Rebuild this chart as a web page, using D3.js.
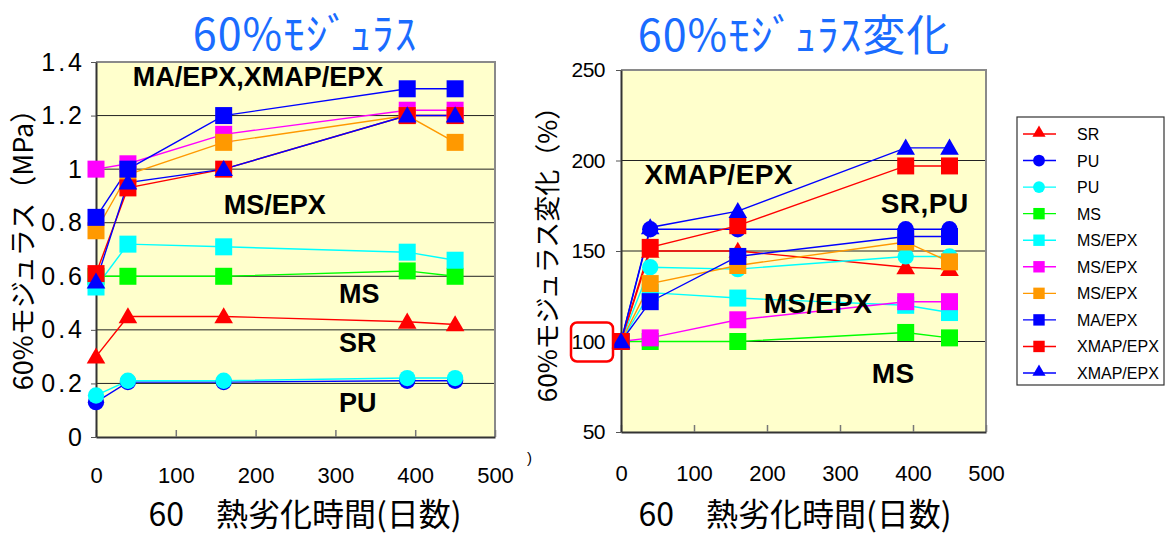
<!DOCTYPE html>
<html>
<head>
<meta charset="utf-8">
<script src="https://cdn.jsdelivr.net/npm/d3@7"></script>
<style>
  html, body { margin: 0; padding: 0; background: #fff; }
  svg { display: block; }
  .cjk { font-family: "Noto Sans CJK JP", "Noto Sans", sans-serif; }
  .num { font-family: "Liberation Sans Narrow", "Liberation Sans", Arial, sans-serif; font-stretch: condensed; }
  .lbl { font-family: "Liberation Sans", Arial, sans-serif; font-weight: bold; }
</style>
</head>
<body>
<svg id="chart" width="1168" height="537"></svg>
<script>
// ---- data -------------------------------------------------------------
const days = [0, 40, 160, 390, 450];          // heat-aging time (days at 60)

const seriesNames = ["SR", "PU", "PU", "MS", "MS/EPX", "MS/EPX", "MS/EPX", "MA/EPX", "XMAP/EPX", "XMAP/EPX"];

// 60% modulus (MPa)
const modSR      = [0.30, 0.45, 0.45, 0.43, 0.42];
const modPU1     = [0.13, 0.205, 0.205, 0.21, 0.21];
const modPU2     = [0.155, 0.21, 0.21, 0.22, 0.22];
const modMS      = [0.60, 0.60, 0.60, 0.62, 0.60];
const modMSEPX1  = [0.56, 0.72, 0.71, 0.69, 0.66];
const modMSEPX2  = [1.00, 1.02, 1.13, 1.22, 1.22];
const modMSEPX3  = [0.77, 0.98, 1.10, 1.20, 1.10];
const modMAEPX   = [0.82, 1.00, 1.20, 1.30, 1.30];
const modXMAP1   = [0.61, 0.93, 1.00, 1.20, 1.20];
const modXMAP2   = [0.58, 0.95, 1.00, 1.20, 1.20];

// 60% modulus change (%)
const chgSR      = [100, 150, 150, 141, 140];
const chgPU1     = [100, 162, 162, 162, 162];
const chgPU2     = [100, 141, 140, 147, 147];
const chgMS      = [100, 100, 100, 105, 102];
const chgMSEPX1  = [100, 127, 124, 120, 116];
const chgMSEPX2  = [100, 102, 112, 122, 122];
const chgMSEPX3  = [100, 132, 142, 155, 144];
const chgMAEPX   = [100, 122, 147, 158, 158];
const chgXMAP1   = [100, 152, 164, 197, 197];
const chgXMAP2   = [100, 163, 172, 207, 207];

const xTicks      = [0, 100, 200, 300, 400, 500];
const modTicks    = [0, 0.2, 0.4, 0.6, 0.8, 1.0, 1.2, 1.4];
const chgTicks    = [50, 100, 150, 200, 250];

// ---- styles (in series order) ------------------------------------------
const colors = ["#FF0000", "#0000FF", "#00FFFF", "#00FF00", "#00FFFF", "#FF00FF", "#FF9900", "#0000FF", "#FF0000", "#0000FF"];
const shapes = ["tri", "circ", "circ", "sq", "sq", "sq", "sq", "sq", "sq", "tri"];

const modSeries = [modSR, modPU1, modPU2, modMS, modMSEPX1, modMSEPX2, modMSEPX3, modMAEPX, modXMAP1, modXMAP2];
const chgSeries = [chgSR, chgPU1, chgPU2, chgMS, chgMSEPX1, chgMSEPX2, chgMSEPX3, chgMAEPX, chgXMAP1, chgXMAP2];

const svg = d3.select("#chart");

function symbolPath(shape, big) {
  const t = shape === "sq" ? d3.symbolSquare : shape === "circ" ? d3.symbolCircle : d3.symbolTriangle;
  const size = big ? (shape === "sq" ? 289 : shape === "circ" ? 210 : 150)
                   : (shape === "sq" ? 130 : shape === "circ" ? 110 : 75);
  return d3.symbol().type(t).size(size)();
}

function drawPanel(opt) {
  const x = d3.scaleLinear().domain([0, 500]).range([opt.left, opt.right]);
  const y = d3.scaleLinear().domain(opt.yDomain).range([opt.bottom, opt.top]);
  const g = svg.append("g");

  g.append("rect")
    .attr("x", opt.left).attr("y", opt.top)
    .attr("width", opt.right - opt.left).attr("height", opt.bottom - opt.top)
    .attr("fill", "#FFFFCC");

  // horizontal gridlines
  g.selectAll("line.grid").data(opt.grid).join("line")
    .attr("class", "grid")
    .attr("x1", opt.left).attr("x2", opt.right)
    .attr("y1", d => y(d)).attr("y2", d => y(d))
    .attr("stroke", "#222").attr("stroke-width", 1);

  // top / right frame
  g.append("path")
    .attr("d", `M${opt.left},${opt.top}H${opt.right}V${opt.bottom}`)
    .attr("fill", "none").attr("stroke", "#8a8a8a").attr("stroke-width", 2);

  // x axis (ticks pointing inward)
  const ax = g.append("g").attr("transform", `translate(0,${opt.bottom})`)
    .call(d3.axisBottom(x).tickValues(xTicks).tickSizeInner(-7).tickSizeOuter(0).tickPadding(opt.xPad));
  ax.select(".domain").attr("stroke", "#333").attr("stroke-width", 2);
  ax.selectAll(".tick line").attr("stroke", "#777").attr("stroke-width", 1.5);
  ax.selectAll("text").attr("class", "num").attr("font-size", 22).attr("fill", "#000");

  // y axis
  const ay = g.append("g").attr("transform", `translate(${opt.left},0)`)
    .call(d3.axisLeft(y).tickValues(opt.yTicks).tickFormat(d3.format("~g"))
      .tickSizeInner(5).tickSizeOuter(0).tickPadding(opt.yPad));
  ay.select(".domain").attr("stroke", "#333").attr("stroke-width", 2);
  ay.selectAll(".tick line").attr("stroke", "#555");
  ay.selectAll("text").attr("class", opt.yFontClass).attr("font-size", opt.yFont)
    .attr("fill", "#000").attr("letter-spacing", opt.yLetter);

  // series lines
  const line = d3.line().x((d, i) => x(days[i])).y(d => y(d));
  opt.series.forEach((s, k) => {
    g.append("path").datum(s).attr("d", line)
      .attr("fill", "none").attr("stroke", colors[k]).attr("stroke-width", 1.4);
  });
  // markers
  opt.series.forEach((s, k) => {
    g.selectAll(null).data(s).join("path")
      .attr("d", symbolPath(shapes[k], true))
      .attr("transform", (d, i) => `translate(${x(days[i])},${y(d) + (shapes[k] === "tri" ? 1.5 : 0)})`)
      .attr("fill", colors[k]);
  });

  // in-plot labels
  g.selectAll("text.ann").data(opt.notes).join("text")
    .attr("class", "ann lbl")
    .attr("x", d => x(d.day)).attr("y", d => y(d.v))
    .attr("text-anchor", "middle").attr("font-size", opt.noteFont)
    .attr("letter-spacing", opt.noteLetter)
    .attr("fill", "#000").text(d => d.t);

  return { x, y, g };
}

// ---- left panel: 60% modulus ------------------------------------------
const L = drawPanel({
  left: 96, right: 495, top: 62, bottom: 437,
  yDomain: [0, 1.4], yTicks: modTicks, grid: [0.2, 0.4, 0.6, 0.8, 1.0, 1.2],
  series: modSeries, xPad: 30, yPad: 6, yFont: 25, yLetter: 3, yFontClass: "lblplain",
  noteFont: 27, noteLetter: 0,
  notes: [
    { t: "MA/EPX,XMAP/EPX", day: 203, v: 1.31 },
    { t: "MS/EPX", day: 224, v: 0.832 },
    { t: "MS", day: 330, v: 0.50 },
    { t: "SR", day: 328, v: 0.317 },
    { t: "PU", day: 328, v: 0.093 }
  ]
});
L.g.selectAll(".lblplain").attr("font-family", "'Liberation Sans', Arial, sans-serif");

// ---- right panel: 60% modulus change ----------------------------------
const R = drawPanel({
  left: 621, right: 986, top: 70, bottom: 432,
  yDomain: [50, 250], yTicks: chgTicks, grid: [100, 150, 200],
  series: chgSeries, xPad: 33, yPad: 11, yFont: 21, yLetter: -0.5, yFontClass: "num",
  noteFont: 28, noteLetter: 0.5,
  notes: [
    { t: "XMAP/EPX", day: 134, v: 187 },
    { t: "SR,PU", day: 416, v: 171 },
    { t: "MS/EPX", day: 270, v: 116 },
    { t: "MS", day: 373, v: 77 }
  ]
});

// red rounded frame around the 100 % reference tick label
R.g.append("rect")
  .attr("x", 571).attr("y", R.y(100) - 19)
  .attr("width", 42).attr("height", 39).attr("rx", 6)
  .attr("fill", "none").attr("stroke", "#FF0000").attr("stroke-width", 2.5);

// ---- titles ------------------------------------------------------------
svg.append("text").attr("class", "cjk").attr("x", 305).attr("y", 50)
  .attr("text-anchor", "middle").attr("font-size", 43).attr("fill", "#1A6CFF")
  .attr("letter-spacing", 1)
  .text("60%ﾓｼﾞｭﾗｽ");
svg.append("text").attr("class", "cjk").attr("x", 794).attr("y", 51)
  .attr("text-anchor", "middle").attr("font-size", 43).attr("fill", "#1A6CFF")
  .attr("letter-spacing", 1)
  .text("60%ﾓｼﾞｭﾗｽ変化");

// axis titles
svg.append("text").attr("class", "cjk")
  .attr("transform", "translate(33,243) rotate(-90)")
  .attr("text-anchor", "middle").attr("font-size", 27).attr("fill", "#000")
  .text("60%モジュラス（MPa）");
svg.append("text").attr("class", "cjk")
  .attr("transform", "translate(557,248) rotate(-90)")
  .attr("text-anchor", "middle").attr("font-size", 26).attr("fill", "#000")
  .text("60%モジュラス変化（%）");

svg.append("text").attr("class", "cjk").attr("x", 305).attr("y", 526)
  .attr("text-anchor", "middle").attr("font-size", 32).attr("fill", "#000")
  .text("60　熱劣化時間(日数)");
svg.append("text").attr("class", "cjk").attr("x", 795).attr("y", 526)
  .attr("text-anchor", "middle").attr("font-size", 32).attr("fill", "#000")
  .text("60　熱劣化時間(日数)");

svg.append("text").attr("x", 527).attr("y", 463)
  .attr("font-family", "'Liberation Sans', Arial, sans-serif")
  .attr("font-size", 15).text(")");

// ---- legend ------------------------------------------------------------
const lg = svg.append("g");
lg.append("rect").attr("x", 1017).attr("y", 117).attr("width", 147).attr("height", 268)
  .attr("fill", "#fff").attr("stroke", "#333").attr("stroke-width", 1.2);
const rowY = d3.scalePoint().domain(d3.range(seriesNames.length)).range([134, 373]);
seriesNames.forEach((name, k) => {
  const yy = rowY(k);
  lg.append("line").attr("x1", 1023).attr("x2", 1056).attr("y1", yy).attr("y2", yy)
    .attr("stroke", colors[k]).attr("stroke-width", 1.4);
  lg.append("path").attr("d", symbolPath(shapes[k], false))
    .attr("transform", `translate(1039,${yy + (shapes[k] === "tri" ? -1 : 0)})`)
    .attr("fill", colors[k]);
  lg.append("text").attr("x", 1077).attr("y", yy + 6)
    .attr("font-family", "'Liberation Sans', Arial, sans-serif")
    .attr("font-size", 16).attr("fill", "#000").text(name);
});
</script>
</body>
</html>
